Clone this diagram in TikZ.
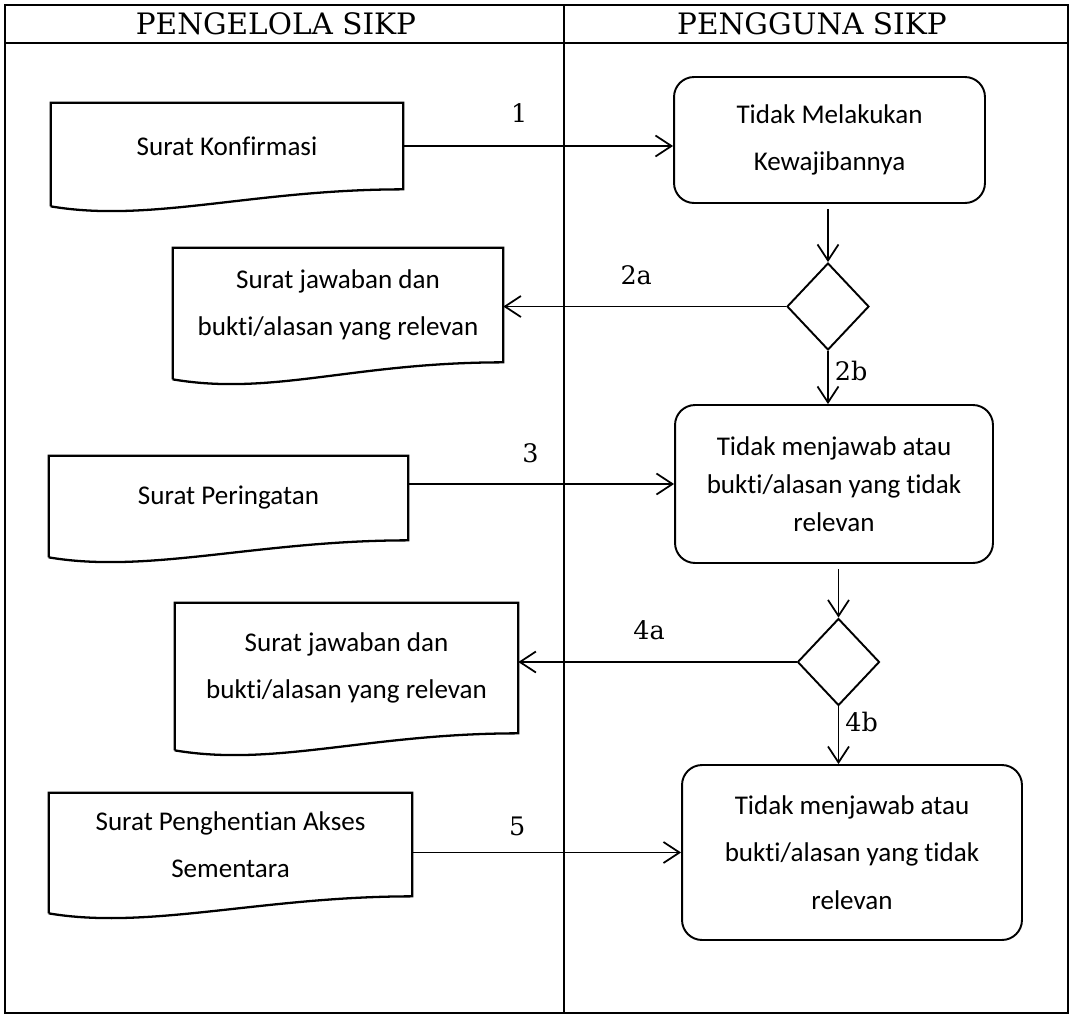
\documentclass[tikz,border=0pt]{standalone}
\usepackage{fontspec}
\newfontfamily\carlito[Ligatures=NoCommon]{Carlito}
\newfontfamily\schola{DejaVu Serif}
\usetikzlibrary{arrows.meta,shapes.geometric}

\begin{document}
\begin{tikzpicture}[
    x=0.02cm, y=-0.02cm,
    doc/.style={inner sep=0pt, align=center, font=\carlito\fontsize{15.4}{27}\selectfont},
    proc/.style={rectangle, rounded corners=0.4cm, draw, line width=1.1pt, align=center, inner sep=0pt, font=\carlito\fontsize{15.4}{27}\selectfont},
    dec/.style={diamond, draw, line width=1.1pt, inner sep=0pt, minimum width=1.64cm, minimum height=1.74cm},
    arrow/.style={-{Straight Barb[length=3.2mm,width=4.2mm]}, line width=1pt},
    lbl/.style={font=\schola\fontsize{14.5}{17}\selectfont, inner sep=0pt},
    head/.style={font=\schola\fontsize{16.8}{20}\selectfont}
]
    \useasboundingbox (0,0) rectangle (1069,1015);

    % swimlanes
    \draw[line width=0.8pt] (5,5) rectangle (1068,1013);
    \draw[line width=1.3pt] (5,43) -- (1068,43);
    \draw[line width=0.8pt] (564,5) -- (564,1013);
    \node[head] (hdrL) at (276,24) {PENGELOLA SIKP};
    \node[head] (hdrR) at (812,24) {PENGGUNA SIKP};

    % documents
    \node[doc, minimum width=7.04cm, minimum height=1.72cm] (konf) at (227,146) {Surat Konfirmasi};
    \node[doc, minimum width=6.6cm, minimum height=2.28cm] (jwb1) at (338,305) {Surat jawaban dan\\bukti/alasan yang relevan};
    \node[doc, minimum width=7.18cm, minimum height=1.68cm] (peri) at (228.5,498) {Surat Peringatan};
    \node[doc, minimum width=6.86cm, minimum height=2.6cm] (jwb2) at (346.5,668) {Surat jawaban dan\\bukti/alasan yang relevan};
    \node[doc, minimum width=7.26cm, minimum height=2.06cm] (henti) at (230.5,844.5) {Surat Penghentian Akses\\Sementara};

    \foreach \d in {konf,jwb1,peri,jwb2,henti}
        \draw[line width=1.3pt] ([yshift=-0.34cm]\d.south west) -- (\d.north west) -- (\d.north east) -- (\d.south east)
            .. controls ([xshift=-3cm]\d.south east) and ([xshift=2cm,yshift=-0.68cm]\d.south west) .. ([yshift=-0.34cm]\d.south west);

    % process
    \node[proc, minimum width=6.22cm, minimum height=2.52cm] (box1) at (829.5,140) {Tidak Melakukan\\Kewajibannya};
    \node[dec] (dia1) at (828,306.5) {};
    \node[proc, minimum width=6.36cm, minimum height=3.16cm, font=\carlito\fontsize{15.4}{21.5}\selectfont] (box2) at (834,484) {Tidak menjawab atau\\bukti/alasan yang tidak\\relevan};
    \node[dec] (dia2) at (838.5,662) {};
    \node[proc, minimum width=6.8cm, minimum height=3.5cm] (box3) at (852,852.5) {Tidak menjawab atau\\bukti/alasan yang tidak\\relevan};

    % connectors
    \draw[arrow] (konf.east) -- (konf.east -| box1.west) node[lbl, pos=0.43, above=0.46cm] {1};
    \draw[arrow, shorten <=3pt] (box1.south -| dia1.north) -- (dia1.north);
    \draw[arrow] (dia1.west) -- (dia1.west -| jwb1.east) node[lbl, pos=0.53, above=0.42cm] {2a};
    \draw[arrow] (dia1.south) -- (dia1.south |- box2.north) node[lbl, pos=0.37, right=0.12cm] {2b};
    \draw[arrow] (peri.east |- box2.west) -- (box2.west) node[lbl, pos=0.46, above=0.4cm] {3};
    \draw[arrow, shorten <=3pt] (box2.south -| dia2.north) -- (dia2.north);
    \draw[arrow] (dia2.west) -- (dia2.west -| jwb2.east) node[lbl, pos=0.53, above=0.42cm] {4a};
    \draw[arrow] (dia2.south) -- (dia2.south |- box3.north) node[lbl, pos=0.27, right=0.12cm] {4b};
    \draw[arrow] (henti.east |- box3.west) -- (box3.west) node[lbl, pos=0.39, above=0.32cm] {5};
\end{tikzpicture}
\end{document}
